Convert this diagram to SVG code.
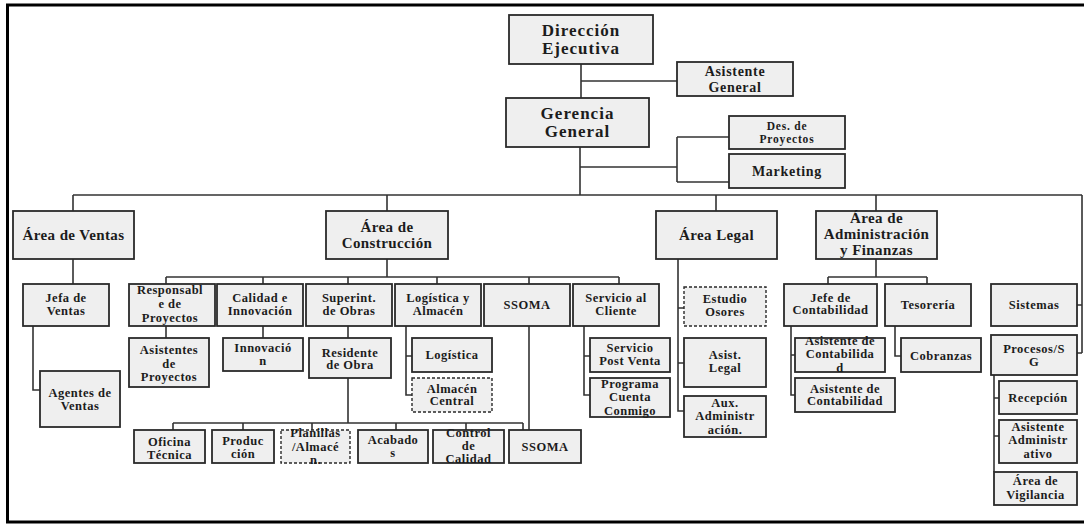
<svg xmlns="http://www.w3.org/2000/svg" width="1084" height="524" viewBox="0 0 1084 524">
  <style>
    .b { fill: #efefef; stroke: #2a2a2a; stroke-width: 1.8; }
    .d { fill: #efefef; stroke: #2a2a2a; stroke-width: 1.4; stroke-dasharray: 3 2; }
    .c { fill: none; stroke: #333333; stroke-width: 1.6; }
    text { font-family: "Liberation Serif", "Times New Roman", serif; font-weight: bold; fill: #1c1c1c; text-anchor: middle; dominant-baseline: central; }
    .t1 { font-size: 17px; letter-spacing: 1px; }
    .t2 { font-size: 15px; letter-spacing: 0.4px; }
    .t14 { font-size: 14px; letter-spacing: 0.7px; }
    .t3 { font-size: 12.5px; letter-spacing: 0.5px; }
    .t4 { font-size: 11.5px; letter-spacing: 0.8px; }
  </style>

  <!-- outer frame -->
  <rect x="7.5" y="5" width="1090" height="517" fill="#ffffff" stroke="#000000" stroke-width="3"/>

  <!-- connectors -->
  <g id="connectors" class="c">
    <path d="M581,64 V98 M581,81 H677"/>
    <path d="M580,147 V195 M580,167 H677 M677,137 V182 M677,137 H729 M677,182 H729"/>
    <path d="M73,195 H1082 M73,195 V211 M387,195 V211 M716,195 V211 M876,195 V211 M1082,195 V353 M1077,305 H1082 M1077,353 H1082"/>
    <path d="M73,259 V284 M33,326 V390 H40"/>
    <path d="M387,259 V277 M166,277 H619 M166,277 V284 M263,277 V284 M348,277 V284 M437,277 V284 M529,277 V284 M619,277 V284"/>
    <path d="M166,326 V338 M263,326 V338 M348,326 V338"/>
    <path d="M348,378 V423 M173,423 H523 M173,423 V430 M243,423 V430 M312,423 V430 M396,423 V430 M466,423 V430 M523,423 V430"/>
    <path d="M529,326 V430"/>
    <path d="M406,326 V395 H412 M406,356 H412"/>
    <path d="M584,326 V395 H590 M584,356 H590"/>
    <path d="M678,259 V411 H684 M678,308 H684 M678,363 H684"/>
    <path d="M876,259 V277 M828,277 H927 M828,277 V284 M927,277 V284"/>
    <path d="M791,326 V395 H795 M791,355 H795"/>
    <path d="M895,326 V356 H901"/>
    <path d="M994,375 V472 M994,398 H999 M994,436 H999"/>
  </g>

  <!-- top management -->
  <g id="direccion">
    <rect class="b" x="509" y="15" width="144" height="49"/>
    <text class="t1" x="581" y="30.5">Dirección</text>
    <text class="t1" x="581" y="48">Ejecutiva</text>
  </g>
  <g id="asistente-general">
    <rect class="b" x="677" y="62" width="116" height="34"/>
    <text class="t14" x="735" y="71">Asistente</text>
    <text class="t14" x="735" y="87">General</text>
  </g>
  <g id="gerencia">
    <rect class="b" x="506" y="98" width="143" height="49"/>
    <text class="t1" x="577.5" y="113">Gerencia</text>
    <text class="t1" x="577.5" y="131">General</text>
  </g>
  <g id="des-proyectos">
    <rect class="b" x="729" y="116" width="116" height="33"/>
    <text class="t4" x="787" y="126">Des. de</text>
    <text class="t4" x="787" y="139">Proyectos</text>
  </g>
  <g id="marketing">
    <rect class="b" x="729" y="154" width="116" height="34"/>
    <text class="t14" x="787" y="171">Marketing</text>
  </g>

  <!-- areas -->
  <g id="area-ventas">
    <rect class="b" x="13" y="211" width="121" height="48"/>
    <text class="t2" x="73.5" y="235">Área de Ventas</text>
  </g>
  <g id="area-construccion">
    <rect class="b" x="326" y="211" width="122" height="48"/>
    <text class="t2" x="387" y="227">Área de</text>
    <text class="t2" x="387" y="243">Construcción</text>
  </g>
  <g id="area-legal">
    <rect class="b" x="656" y="211" width="121" height="48"/>
    <text class="t2" x="716.5" y="235">Área Legal</text>
  </g>
  <g id="area-administracion">
    <rect class="b" x="816" y="211" width="121" height="48"/>
    <text class="t2" x="876.5" y="218">Área de</text>
    <text class="t2" x="876.5" y="234">Administración</text>
    <text class="t2" x="876.5" y="250">y Finanzas</text>
  </g>

  <!-- ventas -->
  <g id="jefa-ventas">
    <rect class="b" x="23" y="284" width="86" height="42"/>
    <text class="t3" x="66" y="298">Jefa de</text>
    <text class="t3" x="66" y="311">Ventas</text>
  </g>
  <g id="agentes-ventas">
    <rect class="b" x="40" y="371" width="80" height="56"/>
    <text class="t3" x="80" y="393">Agentes de</text>
    <text class="t3" x="80" y="406">Ventas</text>
  </g>

  <!-- construccion -->
  <g id="responsable-proyectos">
    <rect class="b" x="129" y="284" width="86" height="42"/>
    <text class="t3" x="170" y="290">Responsabl</text>
    <text class="t3" x="170" y="304">e de</text>
    <text class="t3" x="170" y="318">Proyectos</text>
  </g>
  <g id="calidad-innovacion">
    <rect class="b" x="217" y="284" width="86" height="42"/>
    <text class="t3" x="260" y="298">Calidad e</text>
    <text class="t3" x="260" y="311">Innovación</text>
  </g>
  <g id="superint-obras">
    <rect class="b" x="306" y="284" width="86" height="42"/>
    <text class="t3" x="349" y="298">Superint.</text>
    <text class="t3" x="349" y="311">de Obras</text>
  </g>
  <g id="logistica-almacen">
    <rect class="b" x="395" y="284" width="86" height="42"/>
    <text class="t3" x="438" y="298">Logística y</text>
    <text class="t3" x="438" y="311">Almacén</text>
  </g>
  <g id="ssoma">
    <rect class="b" x="484" y="284" width="86" height="42"/>
    <text class="t3" x="527" y="305">SSOMA</text>
  </g>
  <g id="servicio-cliente">
    <rect class="b" x="573" y="284" width="86" height="42"/>
    <text class="t3" x="616" y="298">Servicio al</text>
    <text class="t3" x="616" y="311">Cliente</text>
  </g>
  <g id="asistentes-proyectos">
    <rect class="b" x="129" y="338" width="80" height="49"/>
    <text class="t3" x="169" y="350">Asistentes</text>
    <text class="t3" x="169" y="363.5">de</text>
    <text class="t3" x="169" y="377">Proyectos</text>
  </g>
  <g id="innovacion">
    <rect class="b" x="223" y="338" width="80" height="33"/>
    <text class="t3" x="263" y="348">Innovació</text>
    <text class="t3" x="263" y="361">n</text>
  </g>
  <g id="residente-obra">
    <rect class="b" x="309" y="338" width="82" height="40"/>
    <text class="t3" x="350" y="352.5">Residente</text>
    <text class="t3" x="350" y="365">de Obra</text>
  </g>
  <g id="logistica">
    <rect class="b" x="412" y="338" width="80" height="34"/>
    <text class="t3" x="452" y="355">Logística</text>
  </g>
  <g id="almacen-central">
    <rect class="d" x="412" y="378" width="80" height="34"/>
    <text class="t3" x="452" y="389">Almacén</text>
    <text class="t3" x="452" y="401">Central</text>
  </g>
  <g id="post-venta">
    <rect class="b" x="590" y="338" width="80" height="34"/>
    <text class="t3" x="630" y="348">Servicio</text>
    <text class="t3" x="630" y="361">Post Venta</text>
  </g>
  <g id="programa-cuenta">
    <rect class="b" x="590" y="378" width="80" height="39"/>
    <text class="t3" x="630" y="384">Programa</text>
    <text class="t3" x="630" y="397">Cuenta</text>
    <text class="t3" x="630" y="411">Conmigo</text>
  </g>
  <g id="oficina-tecnica">
    <rect class="b" x="134" y="430" width="71" height="33"/>
    <text class="t3" x="169.5" y="442">Oficina</text>
    <text class="t3" x="169.5" y="455">Técnica</text>
  </g>
  <g id="produccion">
    <rect class="b" x="212" y="430" width="62" height="33"/>
    <text class="t3" x="243" y="441">Produc</text>
    <text class="t3" x="243" y="454">ción</text>
  </g>
  <g id="planillas-almacen">
    <rect class="d" x="281" y="430" width="69" height="33"/>
    <text class="t3" x="315.5" y="433">Planillas</text>
    <text class="t3" x="315.5" y="446.5">/Almacé</text>
    <text class="t3" x="315.5" y="460">n.</text>
  </g>
  <g id="acabados">
    <rect class="b" x="358" y="430" width="70" height="33"/>
    <text class="t3" x="393" y="440">Acabado</text>
    <text class="t3" x="393" y="453">s</text>
  </g>
  <g id="control-calidad">
    <rect class="b" x="433" y="430" width="71" height="33"/>
    <text class="t3" x="468.5" y="433">Control</text>
    <text class="t3" x="468.5" y="446">de</text>
    <text class="t3" x="468.5" y="459">Calidad</text>
  </g>
  <g id="ssoma-obra">
    <rect class="b" x="509" y="430" width="72" height="33"/>
    <text class="t3" x="545" y="447">SSOMA</text>
  </g>

  <!-- legal -->
  <g id="estudio-osores">
    <rect class="d" x="684" y="287" width="82" height="39"/>
    <text class="t3" x="725" y="299">Estudio</text>
    <text class="t3" x="725" y="312">Osores</text>
  </g>
  <g id="asist-legal">
    <rect class="b" x="684" y="338" width="82" height="49"/>
    <text class="t3" x="725" y="355">Asist.</text>
    <text class="t3" x="725" y="368">Legal</text>
  </g>
  <g id="aux-administracion">
    <rect class="b" x="684" y="396" width="82" height="41"/>
    <text class="t3" x="725" y="403">Aux.</text>
    <text class="t3" x="725" y="416">Administr</text>
    <text class="t3" x="725" y="430">ación.</text>
  </g>

  <!-- administracion y finanzas -->
  <g id="jefe-contabilidad">
    <rect class="b" x="784" y="284" width="93" height="42"/>
    <text class="t3" x="830.5" y="298">Jefe de</text>
    <text class="t3" x="830.5" y="310">Contabilidad</text>
  </g>
  <g id="tesoreria">
    <rect class="b" x="885" y="284" width="86" height="42"/>
    <text class="t3" x="928" y="305">Tesorería</text>
  </g>
  <g id="sistemas">
    <rect class="b" x="991" y="284" width="86" height="42"/>
    <text class="t3" x="1034" y="305">Sistemas</text>
  </g>
  <g id="asistente-contabilidad-1">
    <rect class="b" x="795" y="338" width="90" height="34"/>
    <text class="t3" x="840" y="341">Asistente de</text>
    <text class="t3" x="840" y="354">Contabilida</text>
    <text class="t3" x="840" y="368">d</text>
  </g>
  <g id="asistente-contabilidad-2">
    <rect class="b" x="795" y="378" width="100" height="34"/>
    <text class="t3" x="845" y="389">Asistente de</text>
    <text class="t3" x="845" y="401">Contabilidad</text>
  </g>
  <g id="cobranzas">
    <rect class="b" x="901" y="338" width="80" height="34"/>
    <text class="t3" x="941" y="356">Cobranzas</text>
  </g>
  <g id="procesos-sg">
    <rect class="b" x="991" y="335" width="86" height="40"/>
    <text class="t3" x="1034" y="349">Procesos/S</text>
    <text class="t3" x="1034" y="362">G</text>
  </g>
  <g id="recepcion">
    <rect class="b" x="999" y="381" width="78" height="33"/>
    <text class="t3" x="1038" y="398">Recepción</text>
  </g>
  <g id="asistente-administrativo">
    <rect class="b" x="999" y="420" width="78" height="43"/>
    <text class="t3" x="1038" y="427">Asistente</text>
    <text class="t3" x="1038" y="440">Administr</text>
    <text class="t3" x="1038" y="454">ativo</text>
  </g>
  <g id="area-vigilancia">
    <rect class="b" x="994" y="472" width="83" height="33"/>
    <text class="t3" x="1035.5" y="481">Área de</text>
    <text class="t3" x="1035.5" y="495">Vigilancia</text>
  </g>
</svg>
